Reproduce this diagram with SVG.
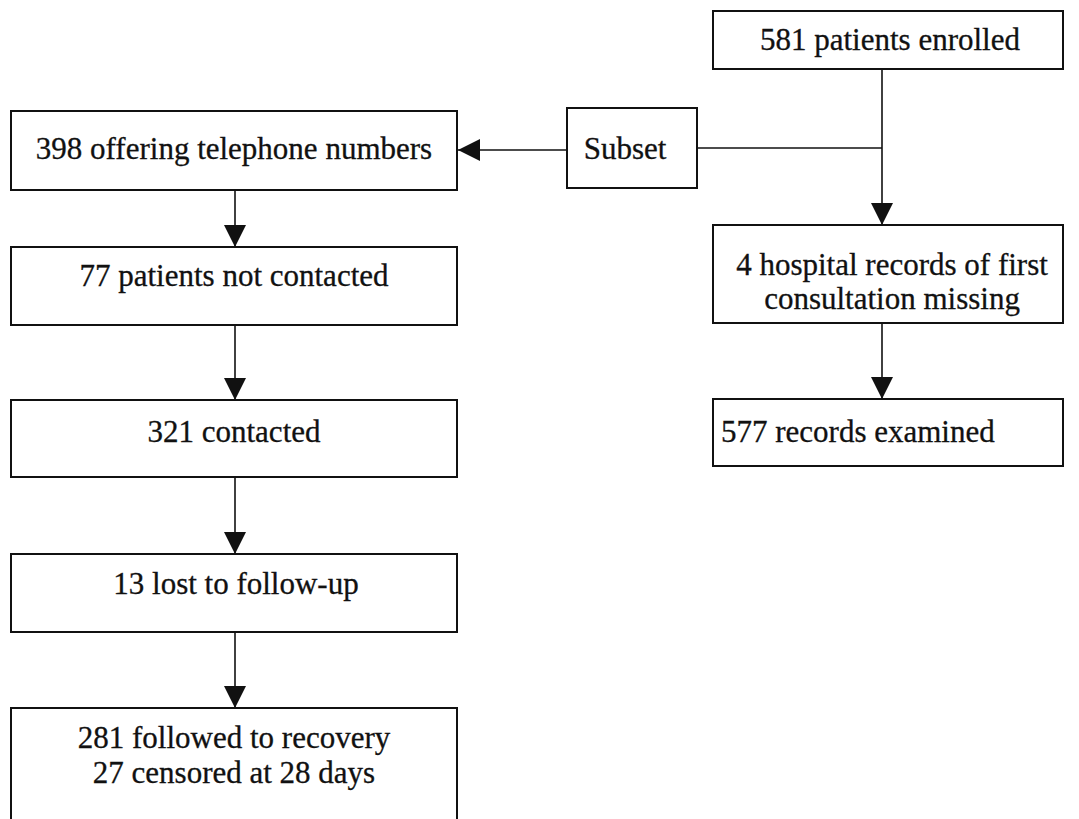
<svg xmlns="http://www.w3.org/2000/svg" width="1079" height="819" viewBox="0 0 1079 819">
<style>
.box{fill:#fff;stroke:#111;stroke-width:2}
.t{font-family:"Liberation Serif","Times New Roman",serif;font-size:31px;fill:#111;stroke:#111;stroke-width:0.3;text-anchor:middle}
.l{font-family:"Liberation Serif","Times New Roman",serif;font-size:31px;fill:#111;stroke:#111;stroke-width:0.3}
.c{fill:none;stroke:#111;stroke-width:1.6}
</style>
<defs>
<marker id="ah" markerUnits="userSpaceOnUse" markerWidth="22" markerHeight="22" viewBox="0 0 22 22" refX="22" refY="11" orient="auto">
<path d="M0,0 L22,11 L0,22 Z" fill="#111"/>
</marker>
</defs>
<rect width="1079" height="819" fill="#fff"/>
<g id="connectors">
<line class="c" x1="882" y1="69" x2="882" y2="225" marker-end="url(#ah)"/>
<line class="c" x1="697" y1="148" x2="882" y2="148"/>
<line class="c" x1="567" y1="150" x2="458" y2="150" marker-end="url(#ah)"/>
<line class="c" x1="235" y1="190" x2="235" y2="247" marker-end="url(#ah)"/>
<line class="c" x1="235" y1="325" x2="235" y2="400" marker-end="url(#ah)"/>
<line class="c" x1="235" y1="477" x2="235" y2="554" marker-end="url(#ah)"/>
<line class="c" x1="235" y1="632" x2="235" y2="708" marker-end="url(#ah)"/>
<line class="c" x1="882" y1="323" x2="882" y2="399" marker-end="url(#ah)"/>
</g>
<g id="enrolled"><rect class="box" x="713" y="11" width="350" height="58"/><text class="t" x="890" y="50">581 patients enrolled</text></g>
<g id="subset"><rect class="box" x="567" y="108" width="130" height="80"/><text class="t" x="625" y="159">Subset</text></g>
<g id="telephone"><rect class="box" x="11" y="111" width="446" height="79"/><text class="t" x="234" y="159">398 offering telephone numbers</text></g>
<g id="notcontacted"><rect class="box" x="11" y="247" width="446" height="78"/><text class="t" x="234" y="286">77 patients not contacted</text></g>
<g id="contacted"><rect class="box" x="11" y="400" width="446" height="77"/><text class="t" x="234" y="442">321 contacted</text></g>
<g id="lost"><rect class="box" x="11" y="554" width="446" height="78"/><text class="t" x="236" y="594">13 lost to follow-up</text></g>
<g id="followed"><rect class="box" x="11" y="708" width="446" height="130"/><text class="t" x="234" y="748">281 followed to recovery</text><text class="t" x="234" y="783">27 censored at 28 days</text></g>
<g id="missing"><rect class="box" x="713" y="225" width="350" height="98"/><text class="t" x="892" y="275">4 hospital records of first</text><text class="t" x="892" y="309">consultation missing</text></g>
<g id="examined"><rect class="box" x="713" y="399" width="350" height="67"/><text class="l" x="721" y="442">577 records examined</text></g>
</svg>
